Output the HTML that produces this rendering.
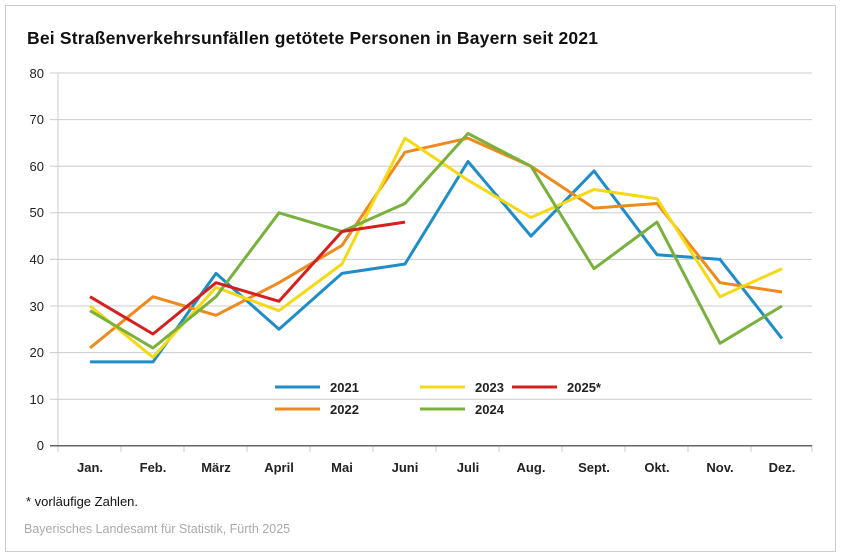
<!DOCTYPE html><html><head><meta charset="utf-8"><style>body{margin:0;background:#fff}svg{display:block}text{font-family:"Liberation Sans",sans-serif}</style></head><body>
<svg width="841" height="557" viewBox="0 0 841 557">
<rect x="5.5" y="5.5" width="830" height="546" fill="#fff" stroke="#ccc"/>
<text x="27" y="44" font-size="17.5" font-weight="bold" fill="#111" textLength="571" lengthAdjust="spacing">Bei Straßenverkehrsunfällen getötete Personen in Bayern seit 2021</text>
<g stroke="#ccc" stroke-width="1">
<line x1="50" x2="812" y1="73" y2="73"/><line x1="50" x2="812" y1="119.6" y2="119.6"/><line x1="50" x2="812" y1="166.2" y2="166.2"/><line x1="50" x2="812" y1="212.8" y2="212.8"/><line x1="50" x2="812" y1="259.4" y2="259.4"/><line x1="50" x2="812" y1="306" y2="306"/><line x1="50" x2="812" y1="352.6" y2="352.6"/><line x1="50" x2="812" y1="399.2" y2="399.2"/>
<line x1="58" x2="58" y1="73" y2="452"/>
<line x1="121" x2="121" y1="445" y2="452"/><line x1="184" x2="184" y1="445" y2="452"/><line x1="247" x2="247" y1="445" y2="452"/><line x1="310" x2="310" y1="445" y2="452"/><line x1="373" x2="373" y1="445" y2="452"/><line x1="436" x2="436" y1="445" y2="452"/><line x1="499" x2="499" y1="445" y2="452"/><line x1="562" x2="562" y1="445" y2="452"/><line x1="625" x2="625" y1="445" y2="452"/><line x1="688" x2="688" y1="445" y2="452"/><line x1="751" x2="751" y1="445" y2="452"/><line x1="812" x2="812" y1="445" y2="452"/>
</g>
<line x1="50" x2="812" y1="445.8" y2="445.8" stroke="#666" stroke-width="1.5"/>
<g font-size="13" fill="#222" text-anchor="end">
<text x="44" y="78">80</text><text x="44" y="124">70</text><text x="44" y="171">60</text><text x="44" y="217">50</text><text x="44" y="264">40</text><text x="44" y="311">30</text><text x="44" y="357">20</text><text x="44" y="404">10</text><text x="44" y="450">0</text>
</g>
<g font-size="13" font-weight="bold" fill="#222" text-anchor="middle">
<text x="90" y="472">Jan.</text><text x="153" y="472">Feb.</text><text x="216" y="472">März</text><text x="279" y="472">April</text><text x="342" y="472">Mai</text><text x="405" y="472">Juni</text><text x="468" y="472">Juli</text><text x="531" y="472">Aug.</text><text x="594" y="472">Sept.</text><text x="657" y="472">Okt.</text><text x="720" y="472">Nov.</text><text x="782" y="472">Dez.</text>
</g>
<g fill="none" stroke-width="3" stroke-linejoin="round">
<polyline stroke="#1f8dc8" points="90,361.9 153,361.9 216,273.4 279,329.3 342,273.4 405,264 468,161.5 531,236.1 594,170.9 657,254.7 720,259.4 782,338.6"/>
<polyline stroke="#ee8a1e" points="90,347.9 153,296.7 216,315.3 279,282.7 342,245.4 405,152.2 468,138.2 531,166.2 594,208.1 657,203.5 720,282.7 782,292"/>
<polyline stroke="#f5d914" points="90,306 153,357.3 216,287.4 279,310.7 342,264 405,138.2 468,180.2 531,217.5 594,189.5 657,198.8 720,296.7 782,268.7"/>
<polyline stroke="#78b13c" points="90,310.7 153,348 216,296.7 279,212.8 342,231.5 405,203.5 468,133.5 531,166.2 594,268.7 657,222.1 720,343.3 782,306"/>
<polyline stroke="#d6201f" points="90,296.7 153,334 216,282.7 279,301.3 342,231.5 405,222.1"/>
</g>
<g stroke-width="3">
<line x1="275" x2="320" y1="387" y2="387" stroke="#1f8dc8"/><line x1="420" x2="465" y1="387" y2="387" stroke="#f5d914"/><line x1="512" x2="557" y1="387" y2="387" stroke="#d6201f"/>
<line x1="275" x2="320" y1="409" y2="409" stroke="#ee8a1e"/><line x1="420" x2="465" y1="409" y2="409" stroke="#78b13c"/>
</g>
<g font-size="13" font-weight="bold" fill="#222">
<text x="330" y="392">2021</text><text x="475" y="392">2023</text><text x="567" y="392">2025*</text><text x="330" y="414">2022</text><text x="475" y="414">2024</text>
</g>
<text x="26" y="506" font-size="13" fill="#111">* vorläufige Zahlen.</text>
<text x="24" y="533" font-size="12.5" fill="#aaa">Bayerisches Landesamt für Statistik, Fürth 2025</text>
</svg></body></html>
